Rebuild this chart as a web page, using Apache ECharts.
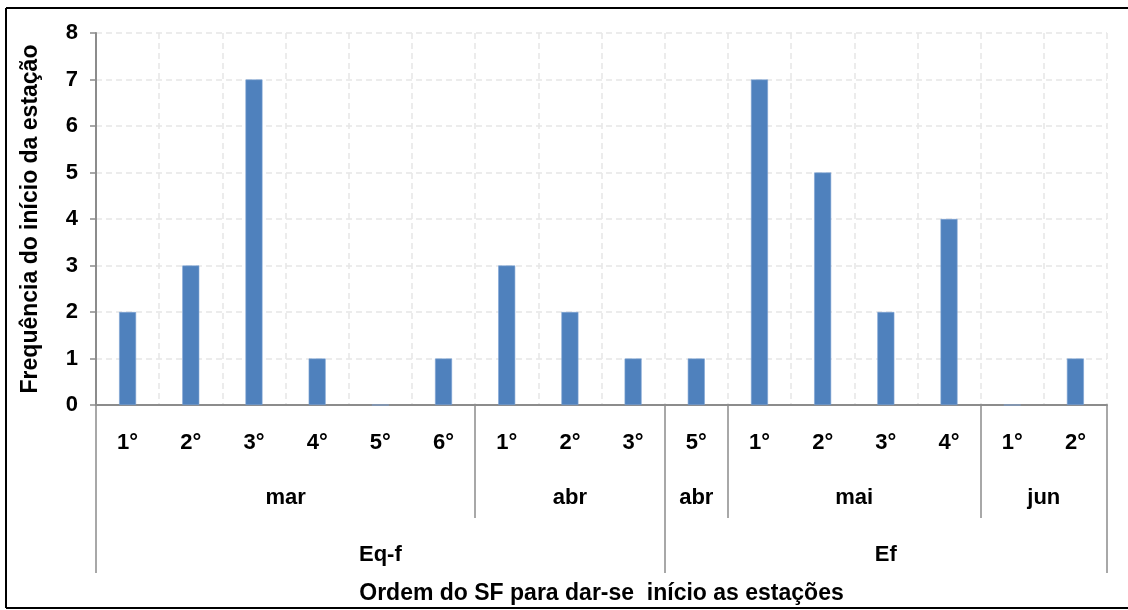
<!DOCTYPE html>
<html>
<head>
<meta charset="utf-8">
<script src="https://cdn.jsdelivr.net/npm/echarts@6/dist/echarts.min.js"></script>
<style>
html,body{margin:0;padding:0;background:#fff;}
#chart{width:1128px;height:610px;}
</style>
</head>
<body>
<div id="chart"></div>
<script>
// Data
const orders = ['1°','2°','3°','4°','5°','6°','1°','2°','3°','5°','1°','2°','3°','4°','1°','2°'];
const frequency = [2,3,7,1,0,1,3,2,1,1,7,5,2,4,0,1];
const months = ['mar','abr','abr','mai','jun'];
const monthSizes = [6,3,1,4,2];
const stations = ['Eq-f','Ef'];
const stationSizes = [9,7];
const yTicks = [0,1,2,3,4,5,6,7,8];

function groupInfo(sizes){
  const bounds=[0], centers=[];
  let acc=0;
  sizes.forEach(s=>{centers.push(acc+s/2); acc+=s; bounds.push(acc);});
  return {bounds, centers};
}
const mg = groupInfo(monthSizes);
const sg = groupInfo(stationSizes);
const mLabelMap = {}; mg.centers.forEach((c,i)=>mLabelMap[c]=months[i]);
const sLabelMap = {}; sg.centers.forEach((c,i)=>sLabelMap[c]=stations[i]);

const FONT = 'Liberation Sans, Arial, sans-serif';
const AX = '#8c8c8c';
const labelStyle = {color:'#000', fontWeight:'bold', fontFamily:FONT, fontSize:22};

const chart = echarts.init(document.getElementById('chart'), null, {renderer:'canvas'});
chart.setOption({
  animation:false,
  backgroundColor:'#fff',
  grid:{left:96, right:21, top:33, bottom:205, containLabel:false},
  xAxis:[
    {
      type:'category', data:orders, boundaryGap:true, position:'bottom',
      axisLine:{lineStyle:{color:AX, width:2}},
      axisTick:{show:false},
      axisLabel:Object.assign({margin:27, interval:0}, labelStyle),
      splitLine:{show:true, lineStyle:{color:'#e6e6e6', type:[6,4], width:1.5}}
    },
    {
      type:'value', min:0, max:orders.length, position:'bottom',
      axisLine:{show:false},
      splitLine:{show:false},
      axisTick:{show:true, customValues:mg.bounds, length:113, lineStyle:{color:AX, width:1.5}},
      axisLabel:Object.assign({margin:82, customValues:mg.centers, formatter:v=>mLabelMap[v]||''}, labelStyle)
    },
    {
      type:'value', min:0, max:orders.length, position:'bottom',
      axisLine:{show:false},
      splitLine:{show:false},
      axisTick:{show:true, customValues:sg.bounds, length:168, lineStyle:{color:AX, width:1.5}},
      axisLabel:Object.assign({margin:139, customValues:sg.centers, formatter:v=>sLabelMap[v]||''}, labelStyle),
      name:'Ordem do SF para dar-se  início as estações',
      nameLocation:'middle', nameGap:177,
      nameTextStyle:Object.assign({}, labelStyle, {fontSize:23})
    }
  ],
  yAxis:{
    type:'value', min:yTicks[0], max:yTicks[yTicks.length-1], interval:1,
    axisLine:{show:true, lineStyle:{color:AX, width:2}},
    axisTick:{show:true, length:6, lineStyle:{color:AX, width:1.5}},
    axisLabel:Object.assign({margin:18}, labelStyle),
    splitLine:{show:true, lineStyle:{color:'#e6e6e6', type:[6,4], width:1.5}},
    name:'Frequência do início da estação',
    nameLocation:'middle', nameGap:54,
    nameTextStyle:Object.assign({}, labelStyle, {fontSize:23})
  },
  series:[{
    type:'bar', xAxisIndex:0, yAxisIndex:0, data:frequency,
    barWidth:17,
    itemStyle:{color:'#4F81BD', borderColor:'#7ea3d3', borderWidth:0.6}
  }],
  graphic:[
    {type:'line', shape:{x1:6,y1:8,x2:1140,y2:8}, style:{stroke:'#000', lineWidth:2}},
    {type:'line', shape:{x1:6,y1:608,x2:1140,y2:608}, style:{stroke:'#000', lineWidth:2}},
    {type:'line', shape:{x1:6,y1:8,x2:6,y2:608}, style:{stroke:'#000', lineWidth:2}}
  ]
});
</script>
</body>
</html>
